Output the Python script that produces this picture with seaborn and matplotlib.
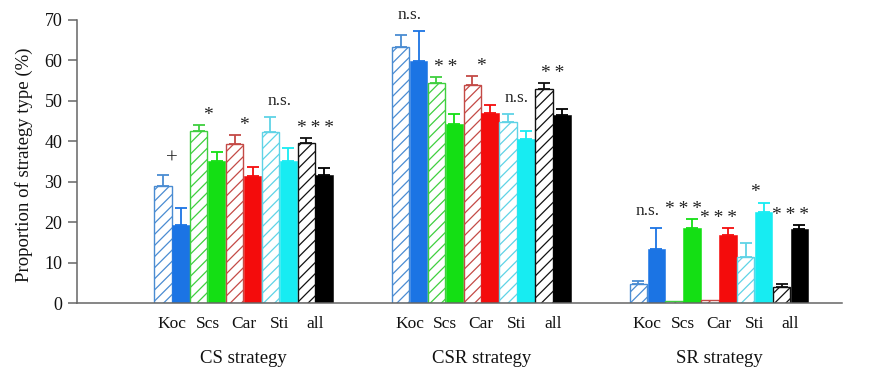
import matplotlib
matplotlib.use("Agg")
import matplotlib.pyplot as plt
import matplotlib.transforms as mtransforms
import pandas as pd
import seaborn as sns

# ---- data -------------------------------------------------------------
strategies = ["CS strategy", "CSR strategy", "SR strategy"]
taxa = ["Koc", "Scs", "Car", "Sti", "all"]

# proportion (%) and its standard error, hatched (open) and solid bars
cs_hatched = [29.0, 42.6, 39.4, 42.4, 39.7]
cs_hatched_se = [2.7, 1.5, 2.2, 3.6, 1.1]
cs_solid = [19.3, 35.2, 31.5, 35.2, 31.7]
cs_solid_se = [4.3, 2.3, 2.3, 3.1, 1.7]

csr_hatched = [63.4, 54.4, 53.9, 44.7, 52.9]
csr_hatched_se = [2.9, 1.4, 2.2, 2.0, 1.6]
csr_solid = [59.9, 44.3, 47.1, 40.5, 46.5]
csr_solid_se = [7.4, 2.4, 1.8, 2.1, 1.5]

sr_hatched = [4.9, 0.5, 0.8, 11.5, 4.0]
sr_hatched_se = [0.6, 0.0, 0.0, 3.5, 0.9]
sr_solid = [13.4, 18.7, 16.9, 22.6, 18.4]
sr_solid_se = [5.3, 2.1, 1.6, 2.3, 0.9]

cs_sig = ["+", "*", "*", "n.s.", "***"]
csr_sig = ["n.s.", "**", "*", "n.s.", "**"]
sr_sig = ["n.s.", "***", "***", "*", "***"]

# ---- styling ------------------------------------------------------------
hatch_colors = ["#4a8cd2", "#3fcf3f", "#c44a46", "#5fd3e6", "#111111"]
solid_colors = ["#1b74e4", "#14df14", "#f40c0c", "#17ecf2", "#000000"]

sns.set_theme(style="ticks")
plt.rcParams["font.family"] = ["Liberation Serif", "DejaVu Serif"]
plt.rcParams["hatch.linewidth"] = 0.9

group_step = 13.27  # distance between group starts, in bar widths

blocks = [
    (cs_hatched, cs_hatched_se, cs_solid, cs_solid_se),
    (csr_hatched, csr_hatched_se, csr_solid, csr_solid_se),
    (sr_hatched, sr_hatched_se, sr_solid, sr_solid_se),
]
sig_lists = [cs_sig, csr_sig, sr_sig]

rows = []
for g, (hv, he, sv, se) in enumerate(blocks):
    for i, taxon in enumerate(taxa):
        base = g * group_step + 2 * i
        rows.append(dict(strategy=strategies[g], taxon=taxon, kind="hatched",
                         pos=base + 0.5, pct=hv[i], se=he[i]))
        rows.append(dict(strategy=strategies[g], taxon=taxon, kind="solid",
                         pos=base + 1.5, pct=sv[i], se=se[i]))
df = pd.DataFrame(rows).sort_values("pos").reset_index(drop=True)

fig = plt.figure(figsize=(8.76, 3.70), dpi=100)
ax = fig.add_axes([0.0879, 0.180, 0.873, 0.766])

sns.barplot(data=df, x="pos", y="pct", native_scale=True, width=0.97,
            errorbar=None, color="white", ax=ax)

# restyle each bar according to its row (matched by bar centre)
for patch in ax.patches:
    cx = patch.get_x() + patch.get_width() / 2
    row = df.iloc[(df["pos"] - cx).abs().idxmin()]
    i = taxa.index(row["taxon"])
    if row["kind"] == "hatched":
        patch.set_facecolor("white")
        patch.set_edgecolor(hatch_colors[i])
        patch.set_hatch("///")
        patch.set_linewidth(1.0)
    else:
        patch.set_facecolor(solid_colors[i])
        patch.set_edgecolor(solid_colors[i])
        patch.set_linewidth(0.4)

# upper error bars
for _, row in df.iterrows():
    if row["se"] <= 0:
        continue
    i = taxa.index(row["taxon"])
    c = hatch_colors[i] if row["kind"] == "hatched" else solid_colors[i]
    ax.errorbar(row["pos"], row["pct"], yerr=[[0], [row["se"]]], fmt="none",
                ecolor=c, elinewidth=1.3, capsize=4, capthick=1.3, zorder=3)

# significance marks above each pair
for g, sig in enumerate(sig_lists):
    for i, s in enumerate(sig):
        sub = df[(df["strategy"] == strategies[g]) & (df["taxon"] == taxa[i])]
        top = (sub["pct"] + sub["se"]).max()
        x = g * group_step + 2 * i + 1
        y = top + 4.0
        size = 12.5
        if s.startswith("*"):
            y -= 1.6
            size = 14
            s = "\u2009".join(s)
        elif s == "+":
            size = 15
        ax.text(x, y, s, ha="center", va="center", fontsize=size,
                color="#222222")

# axes
ax.set_xlim(-4.3, 38.4)
ax.set_ylim(0, 70)
ax.set_yticks(range(0, 71, 10))
pair_centres = [g * group_step + 2 * i + 1 for g in range(3) for i in range(5)]
ax.set_xticks(pair_centres)
ax.set_xticklabels(taxa * 3)
ax.tick_params(axis="x", length=0, pad=9, labelsize=12.5, colors="#111111")
ax.tick_params(axis="y", length=6.5, width=1.1, pad=4, labelsize=13,
               color="#666666", labelcolor="#111111")
ax.set_xlabel("")
ax.set_ylabel("Proportion of strategy type (%)", fontsize=13.5, color="#111111")
ax.yaxis.set_label_coords(-0.057, 0.49)

for side in ("top", "right"):
    ax.spines[side].set_visible(False)
for side in ("left", "bottom"):
    ax.spines[side].set_color("#666666")
    ax.spines[side].set_linewidth(1.1)

trans = mtransforms.blended_transform_factory(ax.transData, ax.transAxes)
for g, name in enumerate(strategies):
    ax.text(g * group_step + 5, -0.195, name, transform=trans, ha="center",
            va="center", fontsize=13.5, color="#111111")

fig.savefig("out.png", dpi=100)
